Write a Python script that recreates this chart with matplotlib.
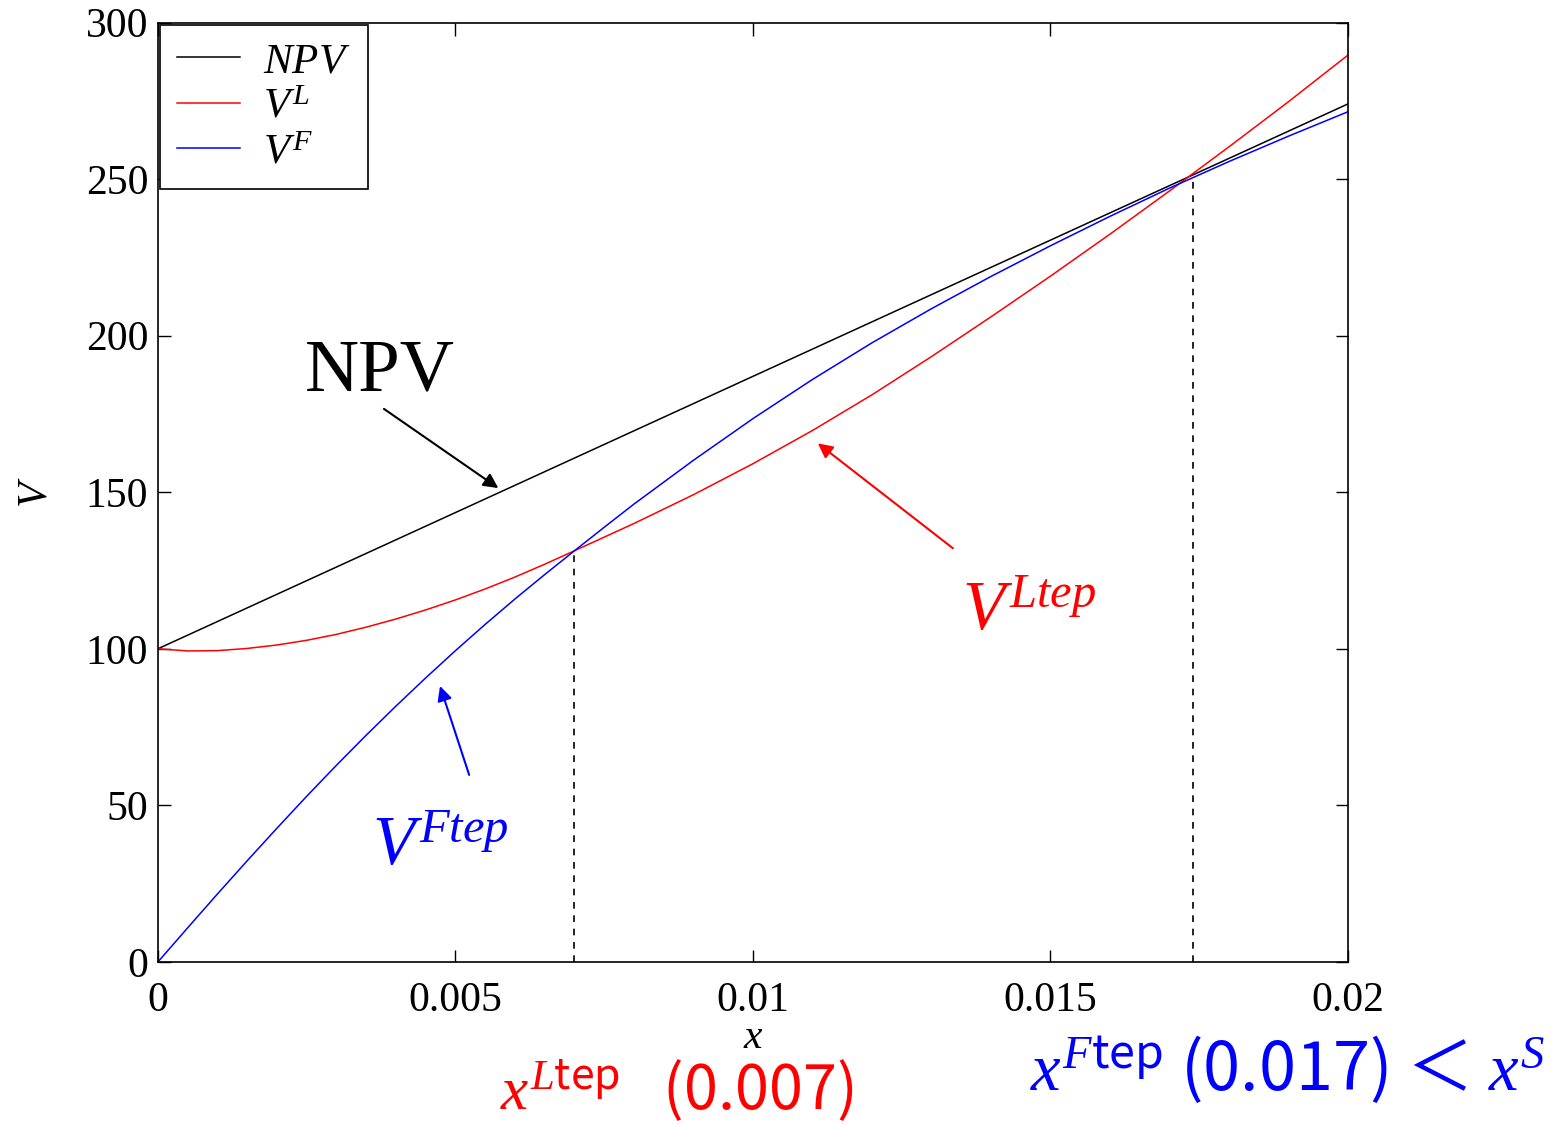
import matplotlib
matplotlib.use("Agg")
import matplotlib.pyplot as plt
import numpy as np

plt.rcParams['font.family'] = ['Liberation Serif', 'DejaVu Serif']
plt.rcParams['mathtext.fontset'] = 'custom'
plt.rcParams['mathtext.rm'] = 'Liberation Serif'
plt.rcParams['mathtext.it'] = 'Liberation Serif:italic'
plt.rcParams['mathtext.sf'] = 'Noto Sans CJK JP'

# values
x_npv = [0.000, 0.002, 0.004, 0.006, 0.008, 0.010, 0.012, 0.014, 0.016, 0.018, 0.020]
npv = [100.0, 117.4, 134.8, 152.2, 169.6, 187.0, 204.4, 221.8, 239.2, 256.6, 274.0]

x_leader = [0.0000, 0.0005, 0.0010, 0.0015, 0.0020, 0.0025, 0.0030, 0.0035, 0.0040,
            0.0045, 0.0050, 0.0055, 0.0060, 0.0065, 0.0070, 0.0080, 0.0090, 0.0100,
            0.0110, 0.0120, 0.0130, 0.0140, 0.0150, 0.0160, 0.0170, 0.0180, 0.0190, 0.0200]
v_leader = [100.0, 99.3, 99.4, 100.1, 101.2, 102.7, 104.6, 106.9, 109.5,
            112.4, 115.6, 119.1, 122.9, 127.0, 131.3, 140.0, 149.2, 159.1,
            169.7, 181.1, 193.3, 206.0, 219.0, 232.4, 246.2, 260.3, 274.7, 289.6]

x_follower = [0.0000, 0.0005, 0.0010, 0.0015, 0.0020, 0.0025, 0.0030, 0.0035, 0.0040,
              0.0045, 0.0050, 0.0055, 0.0060, 0.0065, 0.0070, 0.0075, 0.0080, 0.0090,
              0.0100, 0.0110, 0.0120, 0.0130, 0.0140, 0.0150, 0.0160, 0.0170, 0.0180,
              0.0190, 0.0200]
v_follower = [0.0, 10.9, 21.7, 32.3, 42.7, 52.9, 62.8, 72.4, 81.7,
              90.7, 99.4, 107.8, 115.9, 123.7, 131.3, 138.8, 146.2, 160.2,
              173.5, 186.0, 197.7, 208.6, 218.9, 228.7, 238.1, 247.1, 255.6,
              263.7, 271.5]

x_ltep, v_ltep = 0.007, 131.3
x_ftep, v_ftep = 0.0174, 250.0

fig = plt.figure(figsize=(15.58, 11.25), dpi=100)
ax = fig.add_axes([0.1014, 0.145, 0.7638, 0.835])

ax.plot(x_npv, npv, color='black', lw=1.1, label='$NPV$')
ax.plot(x_leader, v_leader, color='red', lw=1.1, label='$V^L$')
ax.plot(x_follower, v_follower, color='blue', lw=1.1, label='$V^F$')

ax.vlines([x_ltep, x_ftep], 0, [v_ltep, v_ftep], colors='black',
          linestyles=(0, (4, 4)), lw=1.2)

ax.set_xlim(0, 0.02)
ax.set_ylim(0, 300)
ax.set_xticks([0, 0.005, 0.01, 0.015, 0.02])
ax.set_xticklabels(['0', '0.005', '0.01', '0.015', '0.02'])
ax.set_yticks([0, 50, 100, 150, 200, 250, 300])
ax.tick_params(direction='in', length=9, width=1.0, top=True, right=True,
               labelsize=30, pad=7)
ax.tick_params(axis='x', pad=14)
for s in ax.spines.values():
    s.set_linewidth(1.2)

ax.set_xlabel('$x$', fontsize=30, labelpad=-1)
ax.set_ylabel('$V$', fontsize=30, labelpad=22)

leg = ax.legend(loc='upper left', fontsize=31, borderaxespad=0.05, fancybox=False,
                edgecolor='black', framealpha=1, handlelength=1.45, labelspacing=0.15,
                borderpad=0.4, handletextpad=0.55)
leg.get_frame().set_linewidth(1.2)

# curve labels and arrows
ax.annotate('NPV', xy=(0.00572, 151.3), xytext=(0.00247, 182.6), fontsize=54,
            color='black', ha='left', va='baseline',
            arrowprops=dict(arrowstyle='-|>', color='black', lw=1.5,
                            mutation_scale=22, shrinkA=0, shrinkB=0,
                            relpos=(0.5, 0)))
ax.annotate('', xy=(0.01109, 165.6), xytext=(0.01336, 132.1),
            arrowprops=dict(arrowstyle='-|>', color='red', lw=1.5,
                            mutation_scale=22, shrinkA=0, shrinkB=0))
ax.annotate('', xy=(0.00474, 88.1), xytext=(0.00523, 59.7),
            arrowprops=dict(arrowstyle='-|>', color='blue', lw=1.5,
                            mutation_scale=22, shrinkA=0, shrinkB=0))
ax.text(0.01351, 106, '$V^{Ltep}$', fontsize=50, color='red', ha='left', va='baseline')
ax.text(0.0036, 31, '$V^{Ftep}$', fontsize=50, color='blue', ha='left', va='baseline')

# thresholds below the axis
fig.text(0.321, 0.0145, r'$x^{L\mathsf{tep}}$   (0.007)', fontsize=44, color='red',
         family=['Noto Sans CJK JP', 'DejaVu Sans'], ha='left', va='baseline')
fig.text(0.661, 0.031, r'$x^{F\mathsf{tep}}$ (0.017) ＜ $x^{S}$', fontsize=48, color='blue',
         family=['Noto Sans CJK JP', 'DejaVu Sans'], ha='left', va='baseline')

fig.savefig('out.png', dpi=100)
